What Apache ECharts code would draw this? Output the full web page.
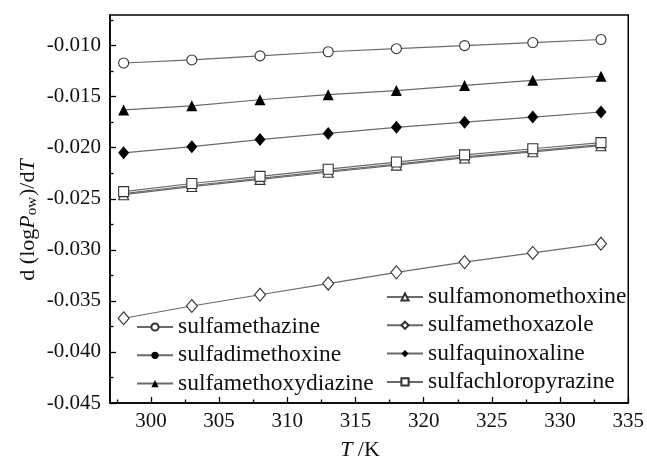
<!DOCTYPE html>
<html>
<head>
<meta charset="utf-8">
<script src="https://cdn.jsdelivr.net/npm/echarts@6/dist/echarts.min.js"></script>
<style>html,body{margin:0;padding:0;background:#fff;}#c{width:647px;height:466px;}</style>
</head>
<body>
<div id="c"></div>
<script>
const temps = [298, 303, 308, 313, 318, 323, 328, 333];
const sulfamethazine = [-0.0117, -0.0114, -0.0110, -0.0106, -0.0103, -0.0100, -0.0097, -0.0094];
const sulfadimethoxine = [-0.0245, -0.0237, -0.0230, -0.0223, -0.0216, -0.0209, -0.0203, -0.0197];
const sulfamethoxydiazine = [-0.0163, -0.0159, -0.0153, -0.0148, -0.0144, -0.0139, -0.0134, -0.0130];
const sulfamonomethoxine = [-0.0246, -0.0238, -0.0231, -0.0224, -0.0217, -0.0210, -0.0204, -0.0198];
const sulfamethoxazole = [-0.0367, -0.0355, -0.0344, -0.0333, -0.0322, -0.0312, -0.0303, -0.0294];
const sulfaquinoxaline = [-0.0205, -0.0199, -0.0192, -0.0186, -0.0180, -0.0175, -0.0170, -0.0165];
const sulfachloropyrazine = [-0.0243, -0.0235, -0.0228, -0.0221, -0.0214, -0.0207, -0.0201, -0.0195];

const xTickValues = [300, 305, 310, 315, 320, 325, 330, 335];
const xMinorTickValues = [297.5, 302.5, 307.5, 312.5, 317.5, 322.5, 327.5, 332.5];
const yTickValues = [-0.045, -0.040, -0.035, -0.030, -0.025, -0.020, -0.015, -0.010];
const yMinorTickValues = [-0.0425, -0.0375, -0.0325, -0.0275, -0.0225, -0.0175, -0.0125, -0.0075];

const legendLeft = ['sulfamethazine', 'sulfadimethoxine', 'sulfamethoxydiazine'];
const legendRight = ['sulfamonomethoxine', 'sulfamethoxazole', 'sulfaquinoxaline', 'sulfachloropyrazine'];

const FONT = '"Liberation Serif", "Times New Roman", serif';
const LINE = '#6a6a6a';

function pts(vals) { return temps.map((t, i) => [t, vals[i]]); }
function mk(name, vals, symbol, size, filled) {
  return {
    name: name, type: 'line', data: pts(vals),
    symbol: symbol, symbolSize: size, showSymbol: true,
    lineStyle: { color: LINE, width: 1.2 },
    itemStyle: filled ? { color: '#000', borderColor: '#000', borderWidth: 0 }
                      : { color: '#fff', borderColor: '#333', borderWidth: 1.1 },
    emphasis: { disabled: true },
    z: 2
  };
}

const chart = echarts.init(document.getElementById('c'));
const legendCommon = {
  orient: 'vertical', padding: 0, itemWidth: 36, itemHeight: 9, itemGap: 4.3,
  selectedMode: false,
  textStyle: { fontFamily: FONT, fontSize: 23.5, color: '#111', lineHeight: 24 }
};
chart.setOption({
  animation: false,
  backgroundColor: '#fff',
  grid: { left: 110, right: 15, top: 15, bottom: 63, show: true, borderColor: '#000', borderWidth: 1.5, backgroundColor: 'transparent' },
  legend: [
    Object.assign({ data: legendLeft, left: 136, top: 315 }, legendCommon),
    Object.assign({ data: legendRight, left: 386, top: 285 }, legendCommon)
  ],
  xAxis: [
    { type: 'value', min: 297, max: 335, position: 'bottom',
      axisLine: { show: true, lineStyle: { color: '#000', width: 1.5 } },
      axisTick: { show: true, inside: true, length: 6, customValues: xTickValues, lineStyle: { color: '#000', width: 1.3 } },
      axisLabel: { customValues: xTickValues, fontFamily: FONT, fontSize: 21, color: '#111', margin: 8 },
      splitLine: { show: false } },
    { type: 'value', min: 297, max: 335, position: 'bottom',
      axisLine: { show: false },
      axisTick: { show: true, inside: true, length: 3.5, customValues: xMinorTickValues, lineStyle: { color: '#000', width: 1.3 } },
      axisLabel: { show: false }, splitLine: { show: false } }
  ],
  yAxis: [
    { type: 'value', min: -0.045, max: -0.007, position: 'left',
      axisLine: { show: true, lineStyle: { color: '#000', width: 1.5 } },
      axisTick: { show: true, inside: true, length: 6, customValues: yTickValues, lineStyle: { color: '#000', width: 1.3 } },
      axisLabel: { customValues: yTickValues, formatter: v => v.toFixed(3), fontFamily: FONT, fontSize: 21, color: '#111', margin: 9 },
      splitLine: { show: false } },
    { type: 'value', min: -0.045, max: -0.007, position: 'left',
      axisLine: { show: false },
      axisTick: { show: true, inside: true, length: 3.5, customValues: yMinorTickValues, lineStyle: { color: '#000', width: 1.3 } },
      axisLabel: { show: false }, splitLine: { show: false } }
  ],
  series: [
    mk('sulfamethazine', sulfamethazine, 'circle', 10, false),
    mk('sulfamethoxydiazine', sulfamethoxydiazine, 'triangle', 11, true),
    mk('sulfaquinoxaline', sulfaquinoxaline, 'diamond', [11, 13], true),
    mk('sulfamethoxazole', sulfamethoxazole, 'diamond', [11, 13], false),
    mk('sulfadimethoxine', sulfadimethoxine, 'circle', 8, true),
    mk('sulfamonomethoxine', sulfamonomethoxine, 'triangle', 10, false),
    mk('sulfachloropyrazine', sulfachloropyrazine, 'rect', 10, false)
  ],
  graphic: [
    { type: 'text', x: 28, y: 220, rotation: Math.PI / 2,
      style: {
        text: '{n|d (log}{i|P}{s|ow}{n|)/d}{i|T}',
        rich: {
          n: { fontFamily: FONT, fontSize: 22, fill: '#111' },
          i: { fontFamily: FONT, fontSize: 22, fontStyle: 'italic', fill: '#111' },
          s: { fontFamily: FONT, fontSize: 15, fill: '#111', padding: [9, 1, 0, 0] }
        },
        align: 'center', verticalAlign: 'middle'
      } },
    { type: 'text', x: 360, y: 450,
      style: {
        text: '{i|T}{n| /K}',
        rich: {
          n: { fontFamily: FONT, fontSize: 22, fill: '#111' },
          i: { fontFamily: FONT, fontSize: 22, fontStyle: 'italic', fill: '#111' }
        },
        align: 'center', verticalAlign: 'middle'
      } }
  ]
});
</script>
</body>
</html>
